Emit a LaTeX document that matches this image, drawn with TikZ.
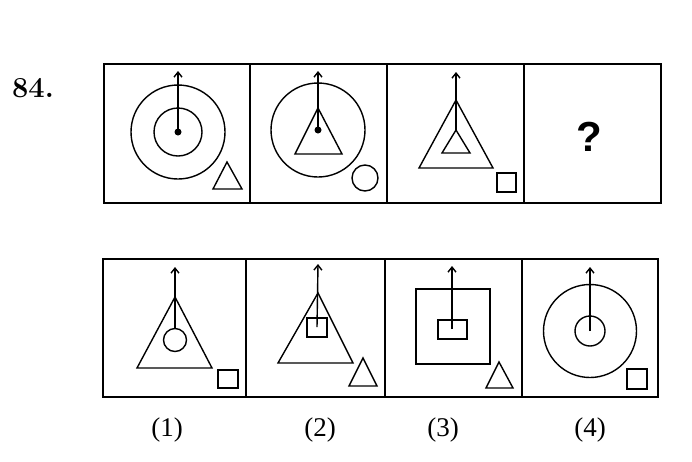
\documentclass[tikz,border=0pt]{standalone}
\usepackage{fontspec}
\usepackage{tikz}
\usetikzlibrary{arrows.meta,positioning}
\newfontfamily\qfont{Liberation Sans}
\newfontfamily\optfont{Liberation Serif}

\begin{document}
\begin{tikzpicture}[x=1pt,y=-1pt, frame/.style={line width=1.7pt}, fig/.style={line width=1.4pt}, arr/.style={-{Straight Barb[length=5pt,width=8pt,line width=1.4pt]},line width=1.4pt}, dot/.style={circle,fill,inner sep=0pt,minimum size=7pt}, lbl/.style={font=\optfont\fontsize{27}{30}\selectfont}]
\useasboundingbox (0,0) rectangle (692,461);
\node[font=\bfseries\fontsize{29}{32}\selectfont] (num) at (33,88) {84.};
% problem figures
\draw[frame] (104,64) rectangle (661,203);
\foreach \x in {250,387,524} \draw[frame] (\x,64) -- (\x,203);
% figure A
\coordinate (ca) at (178,132); \coordinate (ta) at (178,71);
\draw[fig] (ca) circle[radius=47] (ca) circle[radius=24];
\node[dot] (da) at (ca) {};
\draw[arr] (ca) -- (ta);
\draw[fig] (213,189) -- (242,189) -- (227,162) -- cycle;
% figure B
\coordinate (cb) at (318,130); \coordinate (tb) at (318,71);
\draw[fig] (cb) circle[radius=47];
\draw[fig] (295,154) -- (342,154) -- (318,108) -- cycle;
\node[dot] (db) at (cb) {};
\draw[arr] (cb) -- (tb);
\draw[fig] (365,178) circle[radius=13];
% figure C
\coordinate (cc) at (456,130); \coordinate (tc) at (456,72);
\draw[fig] (419,168) -- (493,168) -- (456,100) -- cycle;
\draw[fig] (442,153) -- (470,153) -- (cc) -- cycle;
\draw[arr] (cc) -- (tc);
\draw[fig] (497,173) rectangle (516,192);
% figure D
\node[font=\qfont\bfseries\fontsize{42}{46}\selectfont] (q) at (589,137) {?};
% answer figures
\draw[frame] (103,259) rectangle (658,397);
\foreach \x in {246,385,522} \draw[frame] (\x,259) -- (\x,397);
% answer 1
\coordinate (c1) at (175,340); \coordinate (t1) at (175,267);
\draw[fig] (137,368) -- (212,368) -- (175,297) -- cycle;
\draw[fig] (c1) circle[radius=11.5];
\draw[arr] (175,328.5) -- (t1);
\draw[fig] (218,370) rectangle (238,388);
% answer 2
\coordinate (c2) at (317,327); \coordinate (t2) at (318,264);
\draw[fig] (278,363) -- (353,363) -- (318,293) -- cycle;
\draw[fig] (307,318) rectangle (327,337);
\draw[arr] (c2) -- (t2);
\draw[fig] (349,386) -- (377,386) -- (363,358) -- cycle;
% answer 3
\coordinate (c3) at (452,329); \coordinate (t3) at (452,266);
\draw[fig] (416,289) rectangle (490,364);
\draw[fig] (438,320) rectangle (467,339);
\draw[arr] (c3) -- (t3);
\draw[fig] (486,388) -- (513,388) -- (499,362) -- cycle;
% answer 4
\coordinate (c4) at (590,331); \coordinate (t4) at (590,267);
\draw[fig] (c4) circle[radius=46.5] (c4) circle[radius=15];
\draw[arr] (c4) -- (t4);
\draw[fig] (627,369) rectangle (647,389);
% option labels
\node[lbl] (l1) at (167,430) {(1)};
\node[lbl] (l2) at (320,430) {(2)};
\node[lbl] (l3) at (443,430) {(3)};
\node[lbl] (l4) at (590,430) {(4)};
\end{tikzpicture}
\end{document}
